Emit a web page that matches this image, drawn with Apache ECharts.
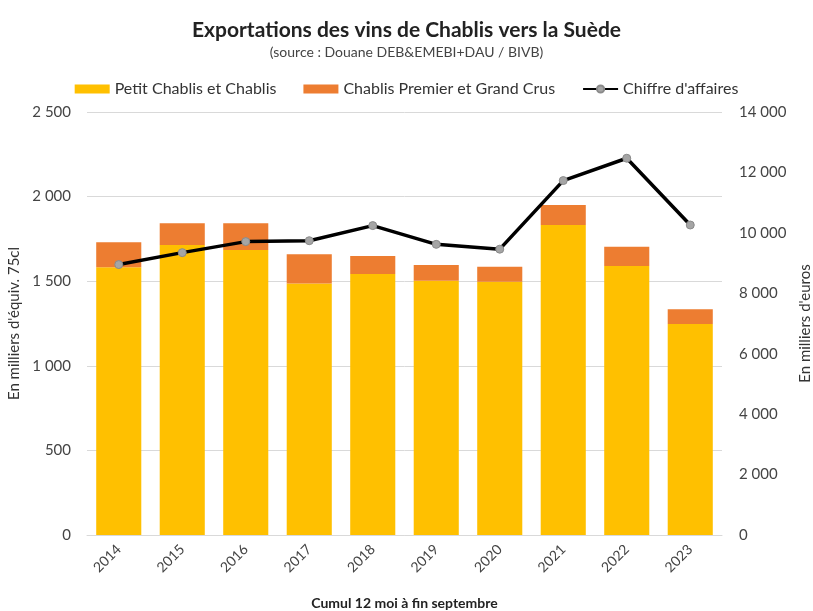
<!DOCTYPE html>
<html><head><meta charset="utf-8">
<script src="https://cdn.jsdelivr.net/npm/echarts@6/dist/echarts.min.js"></script>
<style>html,body{margin:0;padding:0;background:#fff}#c{width:813px;height:611px}</style>
</head><body><div id="c"></div>
<script>
const years = ['2014','2015','2016','2017','2018','2019','2020','2021','2022','2023'];
const petitChablis = [1582, 1714, 1684, 1487, 1543, 1503, 1497, 1832, 1590, 1247];
const premierGrand = [148, 128, 158, 172, 106, 93, 89, 118, 114, 87];
const chiffreAffaires = [8950, 9345, 9710, 9740, 10240, 9620, 9460, 11730, 12470, 10260];
const leftTicks = [0, 500, 1000, 1500, 2000, 2500];
const rightTicks = [0, 2000, 4000, 6000, 8000, 10000, 12000, 14000];

const F = 'Lato, "Open Sans", sans-serif';
const fmt = v => String(v).replace(/\B(?=(\d{3})+(?!\d))/g, ' ');
const chart = echarts.init(document.getElementById('c'));
chart.setOption({
  animation: false,
  textStyle: {fontFamily: F},
  title: {
    text: 'Exportations des vins de Chablis vers la Suède',
    subtext: '(source : Douane DEB&EMEBI+DAU / BIVB)',
    left: 'center', top: 15, itemGap: 4,
    textStyle: {fontFamily: F, fontSize: 21, fontWeight: 'bold', color: '#222'},
    subtextStyle: {fontFamily: F, fontSize: 14, color: '#444'}
  },
  legend: {
    top: 76, left: 'center', itemGap: 27, itemWidth: 35, itemHeight: 9,
    textStyle: {fontFamily: F, fontSize: 16, color: '#333'},
    data: [
      {name: 'Petit Chablis et Chablis', icon: 'rect'},
      {name: 'Chablis Premier et Grand Crus', icon: 'rect'},
      {name: "Chiffre d'affaires"}
    ]
  },
  grid: {left: 87, right: 91, top: 112, bottom: 76, containLabel: false, outerBoundsMode: 'none'},
  xAxis: {
    type: 'category', data: years,
    name: 'Cumul 12 moi à fin septembre', nameLocation: 'middle', nameGap: 61,
    nameTextStyle: {fontFamily: F, fontSize: 14, fontWeight: 'bold', color: '#222'},
    axisTick: {show: false},
    axisLine: {lineStyle: {color: '#d9d9d9'}},
    axisLabel: {rotate: 45, fontSize: 14, color: '#444', margin: 12}
  },
  yAxis: [{
    type: 'value', min: 0, max: 2500, interval: 500,
    name: "En milliers d'équiv. 75cl", nameLocation: 'middle', nameGap: 63, nameRotate: 90,
    nameTextStyle: {fontFamily: F, fontSize: 15, color: '#333'},
    axisLabel: {formatter: fmt, fontSize: 15, color: '#444', margin: 16},
    splitLine: {lineStyle: {color: '#d9d9d9'}},
    axisLine: {show: false}, axisTick: {show: false}
  }, {
    type: 'value', min: 0, max: 14000, interval: 2000,
    name: "En milliers d'euros", nameLocation: 'middle', nameGap: 76, nameRotate: 90,
    nameTextStyle: {fontFamily: F, fontSize: 15, color: '#333'},
    axisLabel: {formatter: fmt, fontSize: 15, color: '#444', margin: 17},
    splitLine: {show: false},
    axisLine: {show: false}, axisTick: {show: false}
  }],
  series: [{
    name: 'Petit Chablis et Chablis', type: 'bar', stack: 'v', data: petitChablis,
    barCategoryGap: '29%', itemStyle: {color: '#FFC000'}
  }, {
    name: 'Chablis Premier et Grand Crus', type: 'bar', stack: 'v', data: premierGrand,
    itemStyle: {color: '#ED7D31'}
  }, {
    name: "Chiffre d'affaires", type: 'line', yAxisIndex: 1, data: chiffreAffaires,
    symbol: 'circle', symbolSize: 8,
    lineStyle: {color: '#000', width: 3.5},
    itemStyle: {color: '#A5A5A5', borderColor: '#8a8a8a', borderWidth: 1}
  }]
});
</script></body></html>
